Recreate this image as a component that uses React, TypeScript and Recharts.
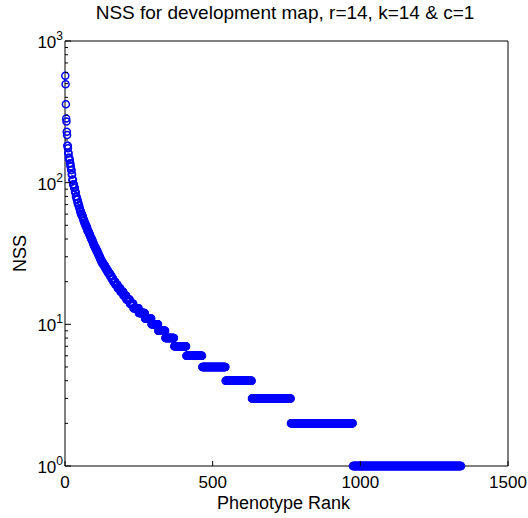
import { ScatterChart, Scatter, XAxis, YAxis } from "recharts";

/* ------------------------------------------------------------------ */
/*  Data (run-length: NSS level and the last rank that holds it)       */
/* ------------------------------------------------------------------ */

const nssLevels = [
  569, 495, 358, 284, 270, 229, 217, 182, 175, 161, 150, 145, 137, 130, 123,
  114, 105, 97, 92, 86, 80, 76, 72, 69, 66, 63, 60, 58, 56, 54, 52, 50, 48,
  46, 45, 44, 43, 42, 41, 40, 39, 38, 37, 36, 35, 34, 33, 32, 31, 30, 29, 28,
  27, 26, 25, 24, 23, 22, 21, 20, 19, 18, 17, 16, 15, 14, 13, 12, 11, 10, 9,
  8, 7, 6, 5, 4, 3, 2, 1,
];

const lastRanks = [
  1, 2, 3, 4, 5, 6, 7, 9, 10, 12, 14, 16, 18, 20, 22, 24, 27, 30, 33, 36, 39,
  42, 45, 48, 50, 53, 57, 60, 62, 65, 68, 72, 75, 78, 80, 82, 84, 86, 88, 91,
  93, 95, 97, 100, 103, 106, 109, 112, 115, 118, 121, 125, 130, 135, 140, 145,
  151, 157, 163, 170, 178, 187, 197, 207, 219, 231, 249, 270, 292, 315, 339,
  369, 410, 464, 543, 632, 764, 974, 1341,
];

const rankTicks = [0, 500, 1000, 1500];
const nssMajorTicks = [1, 10, 100, 1000];
const nssMinorTicks = [
  2, 3, 4, 5, 6, 7, 8, 9, 20, 30, 40, 50, 60, 70, 80, 90, 200, 300, 400, 500,
  600, 700, 800, 900,
];

const TITLE = "NSS for development map, r=14, k=14 & c=1";
const BLUE = "#0000ff";
const FONT = "'Liberation Sans', Arial, Helvetica, sans-serif";

function buildPoints() {
  const points: { rank: number; nss: number }[] = [];
  let rank = 1;
  nssLevels.forEach((nss, i) => {
    for (; rank <= lastRanks[i]; rank++) points.push({ rank, nss });
  });
  return points;
}

const allNssTicks = [...nssMajorTicks, ...nssMinorTicks].sort((a, b) => a - b);

/* ------------------------------------------------------------------ */
/*  Ticks (MATLAB style: drawn inward)                                 */
/* ------------------------------------------------------------------ */

function LeftTick({ x, y, payload }: any) {
  const v = payload.value;
  const major = nssMajorTicks.includes(v);
  return (
    <g>
      <line x1={x} x2={x + (major ? 6 : 3)} y1={y} y2={y} stroke="#000" />
      {major && (
        <text x={x - 2} y={y + 7} textAnchor="end" fontSize={17} fill="#000">
          10
          <tspan dy={-8} fontSize={12}>
            {Math.round(Math.log10(v))}
          </tspan>
        </text>
      )}
    </g>
  );
}

function RightTick({ x, y, payload }: any) {
  const major = nssMajorTicks.includes(payload.value);
  return <line x1={x - (major ? 6 : 3)} x2={x} y1={y} y2={y} stroke="#000" />;
}

function BottomTick({ x, y, payload }: any) {
  return (
    <g>
      <line x1={x} x2={x} y1={y} y2={y - 5} stroke="#000" />
      <text x={x} y={y + 22} textAnchor="middle" fontSize={17} fill="#000">
        {payload.value}
      </text>
    </g>
  );
}

function TopTick({ x, y }: any) {
  return <line x1={x} x2={x} y1={y} y2={y + 5} stroke="#000" />;
}

function OpenCircle({ cx, cy }: any) {
  return <circle cx={cx} cy={cy} r={3.5} fill="none" stroke={BLUE} strokeWidth={1.5} />;
}

/* ------------------------------------------------------------------ */
/*  Component                                                          */
/* ------------------------------------------------------------------ */

export default function App() {
  const data = buildPoints();

  return (
    <div style={{ position: "absolute", left: 0, top: 0, width: 528, height: 518, fontFamily: FONT, background: "#fff" }}>
      <div
        style={{
          position: "absolute",
          left: 0,
          top: 3,
          width: 570,
          textAlign: "center",
          fontSize: 19,
          lineHeight: "19px",
          color: "#000",
        }}
      >
        {TITLE}
      </div>
      <ScatterChart width={528} height={518} margin={{ top: 0, right: 0, bottom: 0, left: 0 }}>
        <XAxis
          dataKey="rank"
          type="number"
          domain={[0, 1500]}
          ticks={rankTicks}
          interval={0}
          height={52}
          tickSize={0}
          tickMargin={0}
          tick={<BottomTick />}
          axisLine={{ stroke: "#000" }}
          label={{ value: "Phenotype Rank", position: "insideBottom", offset: 9, fontSize: 18, fill: "#000", dx: -3 }}
        />
        <XAxis
          xAxisId="top"
          orientation="top"
          type="number"
          domain={[0, 1500]}
          ticks={rankTicks}
          interval={0}
          height={41}
          tickSize={0}
          tickMargin={0}
          tick={<TopTick />}
          axisLine={{ stroke: "#000" }}
        />
        <YAxis
          dataKey="nss"
          type="number"
          scale="log"
          domain={[1, 1000]}
          ticks={allNssTicks}
          interval={0}
          width={65}
          tickSize={0}
          tickMargin={0}
          tick={<LeftTick />}
          axisLine={{ stroke: "#000" }}
          label={{
            value: "NSS",
            angle: -90,
            position: "insideLeft",
            offset: 20,
            fontSize: 18,
            fill: "#000",
            style: { textAnchor: "middle" },
          }}
        />
        <YAxis
          yAxisId="right"
          orientation="right"
          type="number"
          scale="log"
          domain={[1, 1000]}
          ticks={allNssTicks}
          interval={0}
          width={20}
          tickSize={0}
          tickMargin={0}
          tick={<RightTick />}
          axisLine={{ stroke: "#000" }}
        />
        <Scatter data={data} fill={BLUE} shape={<OpenCircle />} isAnimationActive={false} />
      </ScatterChart>
    </div>
  );
}
